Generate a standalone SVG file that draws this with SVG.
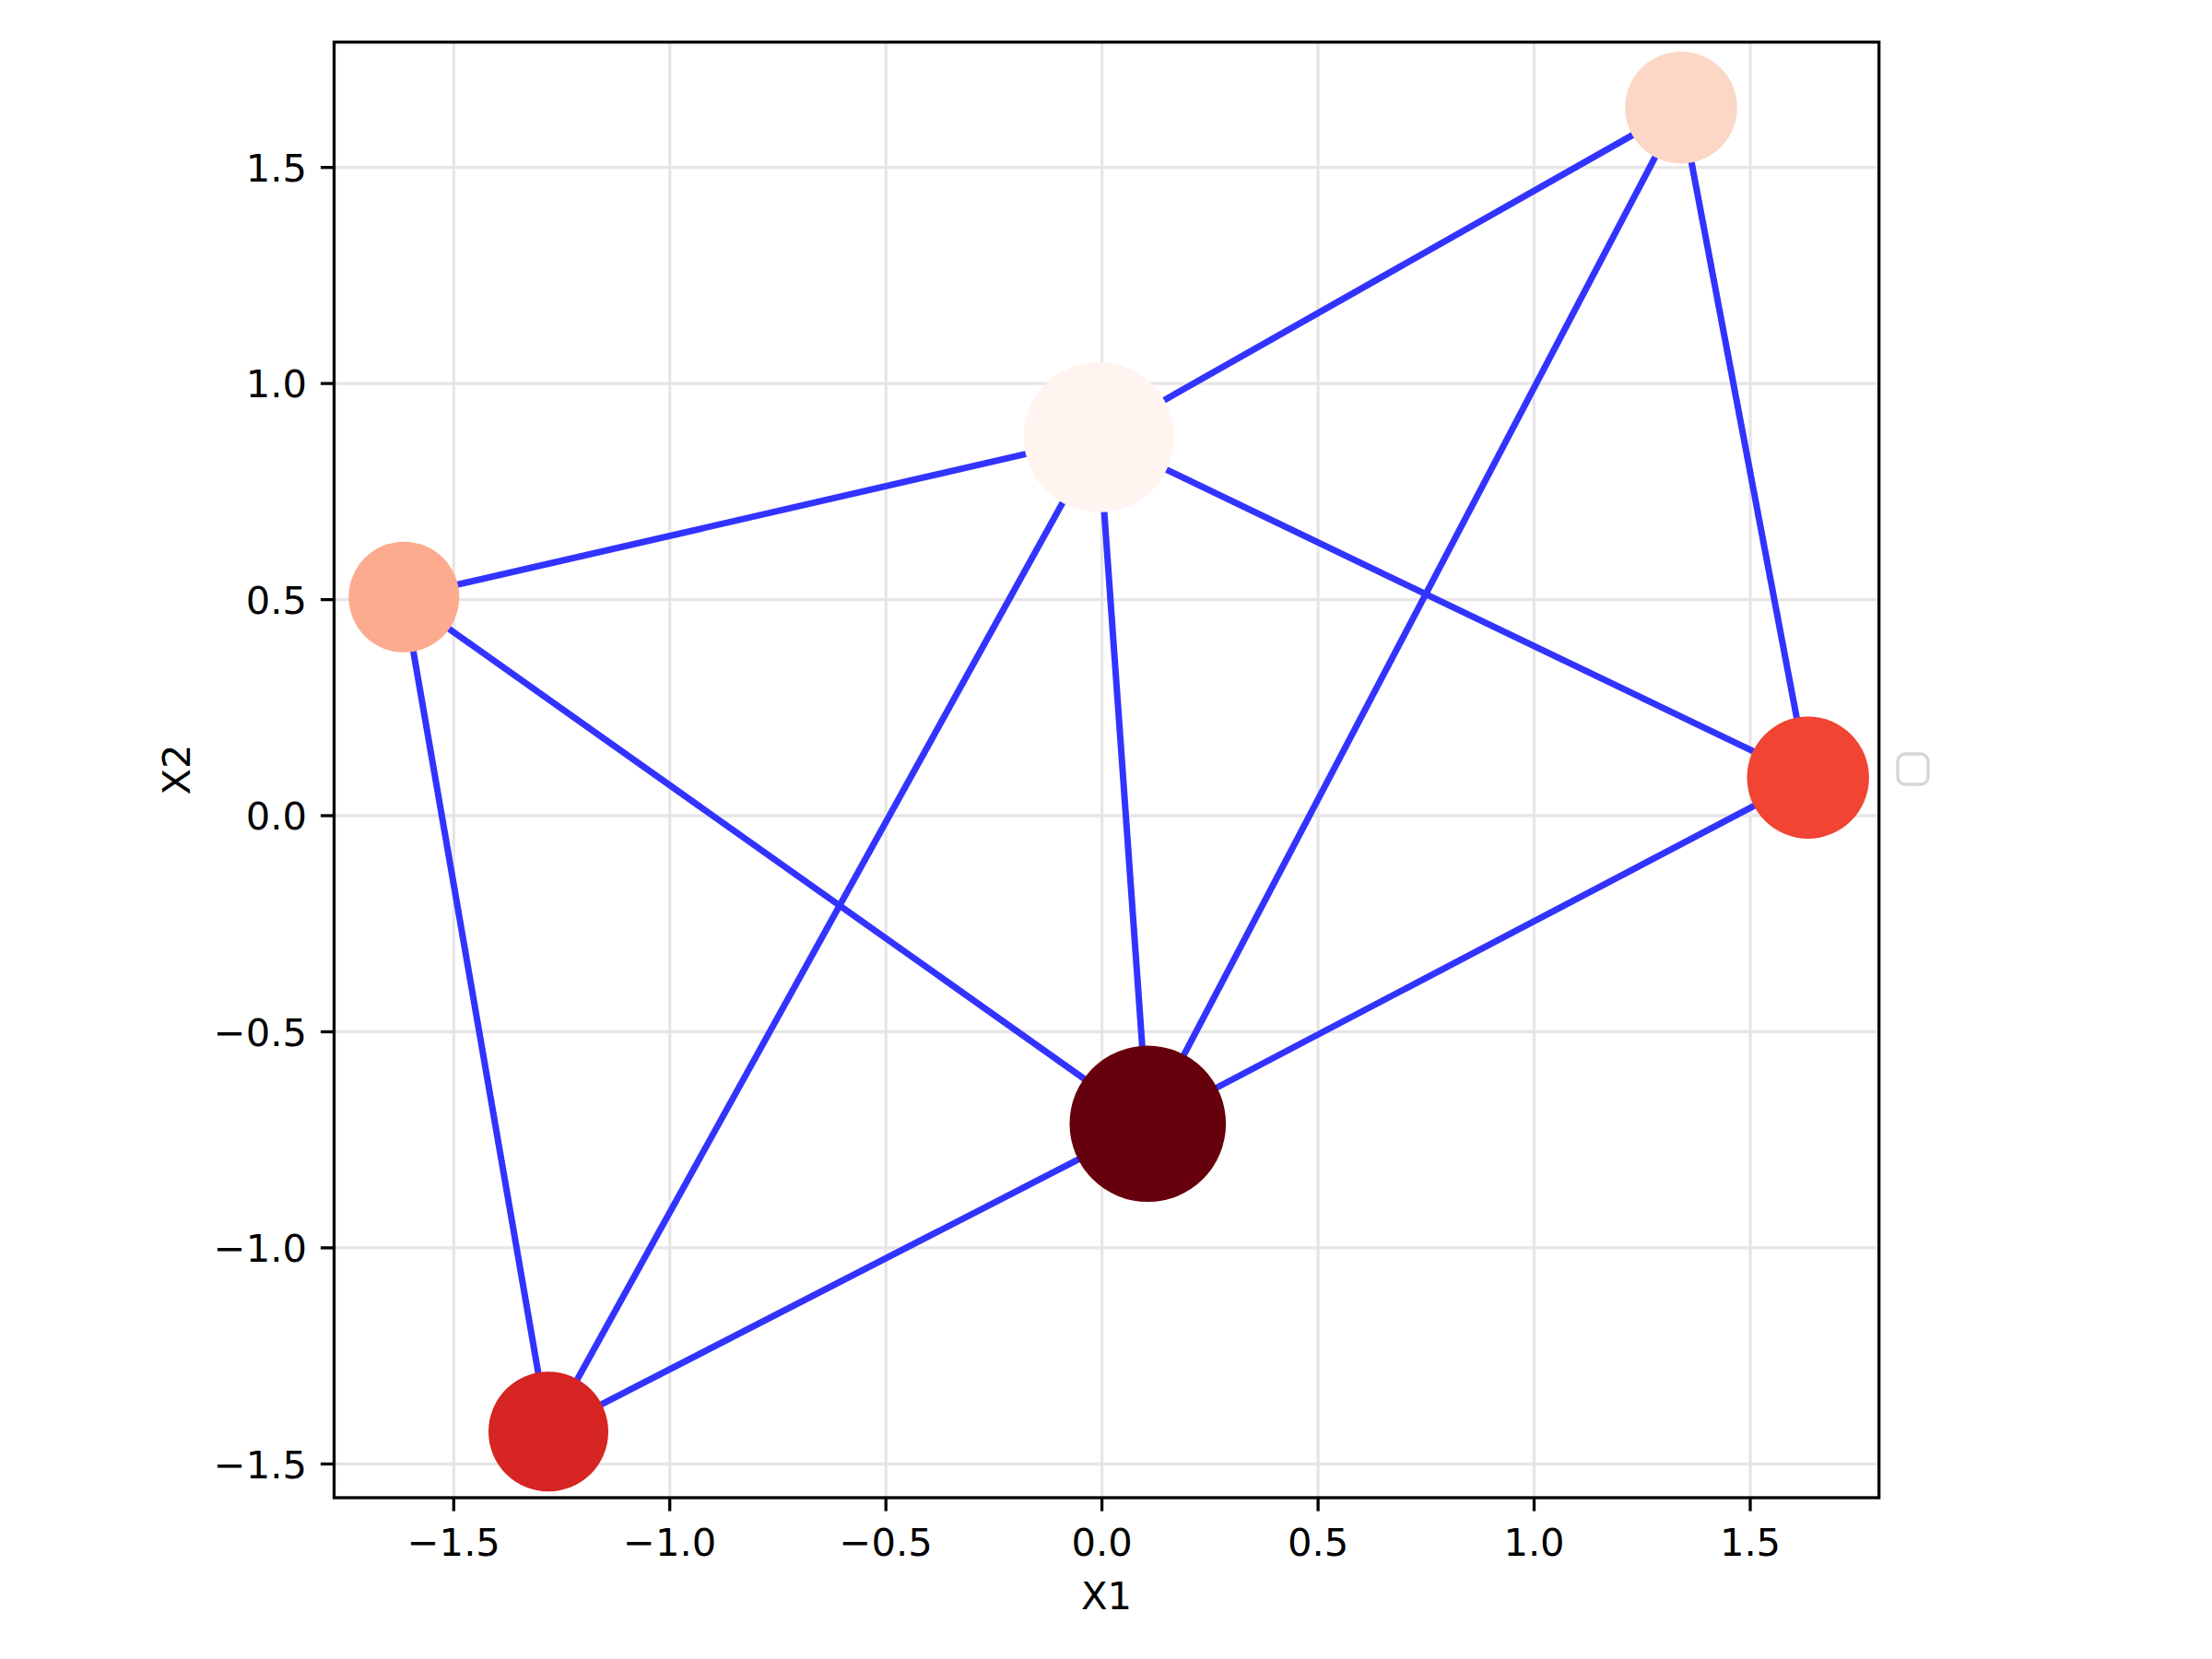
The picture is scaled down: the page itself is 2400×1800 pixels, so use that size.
<svg xmlns="http://www.w3.org/2000/svg" width="2400" height="1800" viewBox="0 0 2400 1800">
<style>
.grid{stroke:#e6e6e6;stroke-width:3.3;fill:none}
.tick{stroke:#000;stroke-width:3.3}
.spine{stroke:#000;stroke-width:3.3;fill:none;stroke-linecap:square}
.edge{stroke:#3333ff;stroke-width:7;fill:none}
text{font-family:"DejaVu Sans",sans-serif;font-size:41.67px;fill:#000}
.xt{text-anchor:middle}
.yt{text-anchor:end}
</style>
<rect x="0" y="0" width="2400" height="1800" fill="#fff"/>
<g id="grid">
<line class="grid" x1="492.3" y1="45.7" x2="492.3" y2="1625"/>
<line class="grid" x1="726.7" y1="45.7" x2="726.7" y2="1625"/>
<line class="grid" x1="961.2" y1="45.7" x2="961.2" y2="1625"/>
<line class="grid" x1="1195.6" y1="45.7" x2="1195.6" y2="1625"/>
<line class="grid" x1="1430.1" y1="45.7" x2="1430.1" y2="1625"/>
<line class="grid" x1="1664.5" y1="45.7" x2="1664.5" y2="1625"/>
<line class="grid" x1="1899" y1="45.7" x2="1899" y2="1625"/>
<line class="grid" x1="362.5" y1="181.7" x2="2038.7" y2="181.7"/>
<line class="grid" x1="362.5" y1="416.1" x2="2038.7" y2="416.1"/>
<line class="grid" x1="362.5" y1="650.6" x2="2038.7" y2="650.6"/>
<line class="grid" x1="362.5" y1="885" x2="2038.7" y2="885"/>
<line class="grid" x1="362.5" y1="1119.5" x2="2038.7" y2="1119.5"/>
<line class="grid" x1="362.5" y1="1353.9" x2="2038.7" y2="1353.9"/>
<line class="grid" x1="362.5" y1="1588.4" x2="2038.7" y2="1588.4"/>
</g>
<g id="connectors">
<line class="edge" x1="1824" y1="116.7" x2="1192.3" y2="474.3"/>
<line class="edge" x1="1824" y1="116.7" x2="1961.7" y2="843.7"/>
<line class="edge" x1="1824" y1="116.7" x2="1245.3" y2="1219.3"/>
<line class="edge" x1="1192.3" y1="474.3" x2="438.3" y2="647.7"/>
<line class="edge" x1="1192.3" y1="474.3" x2="1961.7" y2="843.7"/>
<line class="edge" x1="1192.3" y1="474.3" x2="1245.3" y2="1219.3"/>
<line class="edge" x1="1192.3" y1="474.3" x2="595" y2="1553.3"/>
<line class="edge" x1="438.3" y1="647.7" x2="1245.3" y2="1219.3"/>
<line class="edge" x1="438.3" y1="647.7" x2="595" y2="1553.3"/>
<line class="edge" x1="595" y1="1553.3" x2="1245.3" y2="1219.3"/>
<line class="edge" x1="1961.7" y1="843.7" x2="1245.3" y2="1219.3"/>
</g>
<g id="node-A"><circle cx="1824" cy="116.7" r="60.8" fill="#fcd7c5"/></g>
<g id="node-B"><circle cx="1192.3" cy="474.3" r="81.5" fill="#fff4ef"/></g>
<g id="node-C"><circle cx="1245.3" cy="1219.3" r="84.8" fill="#67000d"/></g>
<g id="node-D"><circle cx="438.3" cy="647.7" r="60" fill="#fcab8f"/></g>
<g id="node-E"><circle cx="595" cy="1553.3" r="65" fill="#d62523"/></g>
<g id="node-F"><circle cx="1961.7" cy="843.7" r="66.2" fill="#f14432"/></g>
<g id="axes">
<rect class="spine" x="362.5" y="45.7" width="1676.2" height="1579.3"/>
<g class="ticks">
<line class="tick" x1="492.3" y1="1625" x2="492.3" y2="1639.6"/>
<line class="tick" x1="726.7" y1="1625" x2="726.7" y2="1639.6"/>
<line class="tick" x1="961.2" y1="1625" x2="961.2" y2="1639.6"/>
<line class="tick" x1="1195.6" y1="1625" x2="1195.6" y2="1639.6"/>
<line class="tick" x1="1430.1" y1="1625" x2="1430.1" y2="1639.6"/>
<line class="tick" x1="1664.5" y1="1625" x2="1664.5" y2="1639.6"/>
<line class="tick" x1="1899" y1="1625" x2="1899" y2="1639.6"/>
<line class="tick" x1="347.9" y1="181.7" x2="362.5" y2="181.7"/>
<line class="tick" x1="347.9" y1="416.1" x2="362.5" y2="416.1"/>
<line class="tick" x1="347.9" y1="650.6" x2="362.5" y2="650.6"/>
<line class="tick" x1="347.9" y1="885" x2="362.5" y2="885"/>
<line class="tick" x1="347.9" y1="1119.5" x2="362.5" y2="1119.5"/>
<line class="tick" x1="347.9" y1="1353.9" x2="362.5" y2="1353.9"/>
<line class="tick" x1="347.9" y1="1588.4" x2="362.5" y2="1588.4"/>
</g>
<text class="xt" x="492.3" y="1688">−1.5</text>
<text class="xt" x="726.7" y="1688">−1.0</text>
<text class="xt" x="961.2" y="1688">−0.5</text>
<text class="xt" x="1195.6" y="1688">0.0</text>
<text class="xt" x="1430.1" y="1688">0.5</text>
<text class="xt" x="1664.5" y="1688">1.0</text>
<text class="xt" x="1899" y="1688">1.5</text>
<text class="yt" x="333" y="196.9">1.5</text>
<text class="yt" x="333" y="431.3">1.0</text>
<text class="yt" x="333" y="665.8">0.5</text>
<text class="yt" x="333" y="900.2">0.0</text>
<text class="yt" x="333" y="1134.7">−0.5</text>
<text class="yt" x="333" y="1369.1">−1.0</text>
<text class="yt" x="333" y="1603.6">−1.5</text>
<text class="xt" x="1200.6" y="1746">X1</text>
<text class="xt" transform="translate(206,835) rotate(-90)" x="0" y="0">X2</text>
</g>
<g id="legend"><rect x="2059" y="818" width="33" height="33" rx="8" fill="#fff" stroke="#d6d6d6" stroke-width="3.3"/></g>
</svg>
